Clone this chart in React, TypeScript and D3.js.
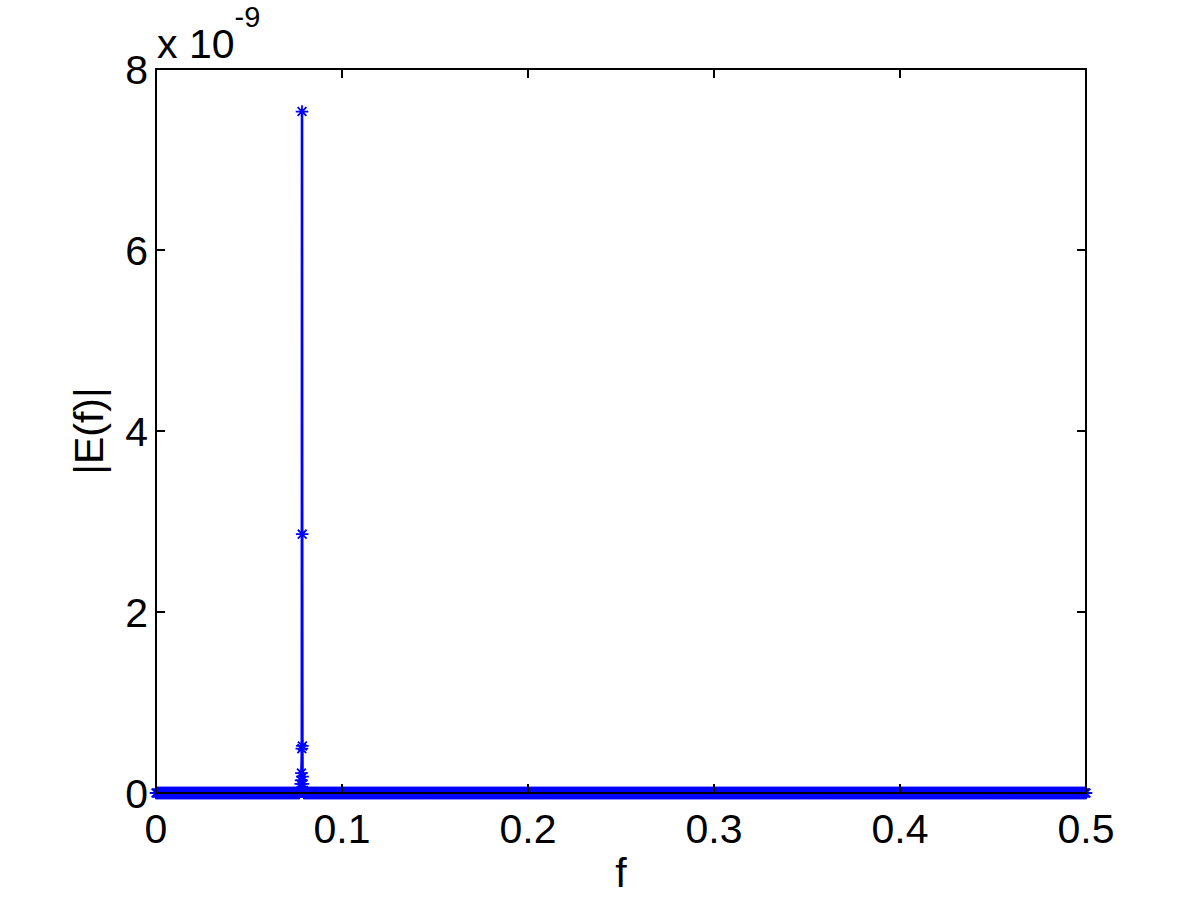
import React, { useEffect, useRef } from 'react';
import * as d3 from 'd3';

// tick values
const xTicks = [0, 0.1, 0.2, 0.3, 0.4, 0.5];
const yTicks = [0, 2, 4, 6, 8]; // in units of 1e-9

// samples around the spectral peak (E in units of 1e-9)
const peakF = [0.0776, 0.0778, 0.078, 0.0782, 0.0784, 0.0785, 0.0786, 0.0787, 0.0788, 0.079, 0.0792];
const peakE = [0.02, 0.1, 0.14, 0.22, 0.49, 7.53, 2.86, 0.52, 0.18, 0.1, 0.03];

// frequency grid of the flat part of the spectrum, all values ~0
const gridStep = 0.0005;
const flatF = d3.range(0, 0.5 + 1e-9, gridStep).filter(f => f < 0.0774 || f > 0.0794);
const flatE = flatF.map(() => 0);

function App() {
  const ref = useRef<SVGSVGElement>(null);

  useEffect(() => {
    const width = 1200, height = 900;
    const left = 156, right = 1086, top = 69, bottom = 793;
    const font = '"Liberation Sans", Arial, Helvetica, sans-serif';

    const svg = d3.select(ref.current)
      .attr('width', width)
      .attr('height', height);
    svg.selectAll('*').remove();

    const x = d3.scaleLinear().domain([0, 0.5]).range([left, right]);
    const y = d3.scaleLinear().domain([0, 8]).range([bottom, top]);

    const pts = flatF.map((f, i) => ({ f, e: flatE[i] }))
      .concat(peakF.map((f, i) => ({ f, e: peakE[i] })))
      .sort((a, b) => a.f - b.f);

    svg.append('rect').attr('width', width).attr('height', height).attr('fill', '#fff');

    const line = d3.line<{ f: number; e: number }>()
      .x(d => x(d.f))
      .y(d => y(d.e));

    svg.append('path')
      .datum(pts)
      .attr('fill', 'none')
      .attr('stroke', '#0000ff')
      .attr('stroke-width', 2.6)
      .attr('d', line);

    // asterisk markers
    const r = 6.3, a = r * 0.7;
    const star = `M${-r},0L${r},0M0,${-r}L0,${r}M${-a},${-a}L${a},${a}M${-a},${a}L${a},${-a}`;
    svg.append('g')
      .selectAll('path')
      .data(pts)
      .join('path')
      .attr('transform', d => `translate(${x(d.f)},${y(d.e)})`)
      .attr('d', star)
      .attr('fill', 'none')
      .attr('stroke', '#0000ff')
      .attr('stroke-width', 1.8);

    // box and ticks
    const ax = svg.append('g').attr('stroke', '#000').attr('stroke-width', 2).attr('fill', 'none');
    ax.append('rect')
      .attr('x', left).attr('y', top)
      .attr('width', right - left).attr('height', bottom - top);
    const tl = 9;
    xTicks.forEach(t => {
      ax.append('line').attr('x1', x(t)).attr('x2', x(t)).attr('y1', bottom).attr('y2', bottom - tl);
      ax.append('line').attr('x1', x(t)).attr('x2', x(t)).attr('y1', top).attr('y2', top + tl);
    });
    yTicks.forEach(t => {
      ax.append('line').attr('x1', left).attr('x2', left + tl).attr('y1', y(t)).attr('y2', y(t));
      ax.append('line').attr('x1', right).attr('x2', right - tl).attr('y1', y(t)).attr('y2', y(t));
    });

    const fs = 41;
    svg.append('g')
      .selectAll('text')
      .data(xTicks)
      .join('text')
      .attr('x', d => x(d))
      .attr('y', 843)
      .attr('text-anchor', 'middle')
      .attr('font-family', font)
      .attr('font-size', fs)
      .text(d => String(d));

    svg.append('g')
      .selectAll('text')
      .data(yTicks)
      .join('text')
      .attr('x', left - 8)
      .attr('y', d => y(d) + 15)
      .attr('text-anchor', 'end')
      .attr('font-family', font)
      .attr('font-size', fs)
      .text(d => String(d));

    // exponent
    const ex = svg.append('text')
      .attr('x', 157)
      .attr('y', 58)
      .attr('font-family', font)
      .attr('font-size', fs);
    ex.append('tspan').text('x 10');
    ex.append('tspan').attr('dy', -31).attr('font-size', 29).text('-9');

    // axis labels
    svg.append('text')
      .attr('x', (left + right) / 2)
      .attr('y', 887)
      .attr('text-anchor', 'middle')
      .attr('font-family', font)
      .attr('font-size', fs)
      .text('f');

    svg.append('text')
      .attr('transform', `translate(103,${(top + bottom) / 2}) rotate(-90)`)
      .attr('text-anchor', 'middle')
      .attr('font-family', font)
      .attr('font-size', fs)
      .text('|E(f)|');
  }, []);

  return <svg ref={ref} style={{ position: 'absolute', left: 0, top: 0 }}></svg>;
}

export default App;
